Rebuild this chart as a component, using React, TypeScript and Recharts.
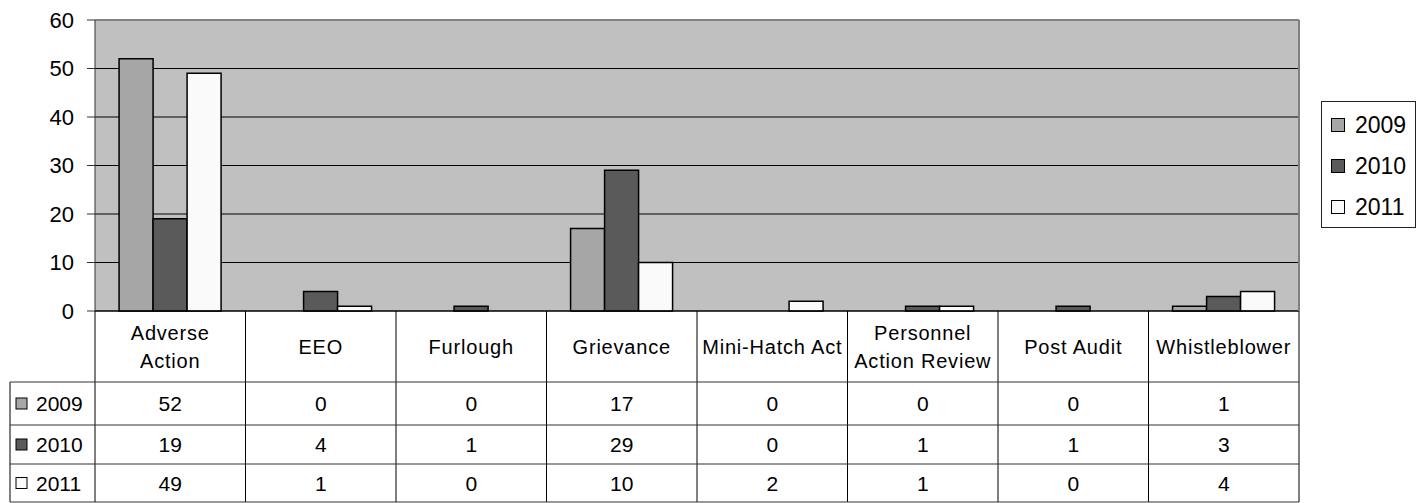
import React from "react";
import { BarChart, Bar, XAxis, YAxis, CartesianGrid, Legend, ReferenceLine } from "recharts";

const categories = [
  "Adverse\nAction",
  "EEO",
  "Furlough",
  "Grievance",
  "Mini-Hatch Act",
  "Personnel\nAction Review",
  "Post Audit",
  "Whistleblower",
];
const seriesNames = ["2009", "2010", "2011"];
const s2009 = [52, 0, 0, 17, 0, 0, 0, 1];
const s2010 = [19, 4, 1, 29, 0, 1, 1, 3];
const s2011 = [49, 1, 0, 10, 2, 1, 0, 4];
const yTicks = [0, 10, 20, 30, 40, 50, 60];

const seriesValues = [s2009, s2010, s2011];
const colors = ["#a6a6a6", "#5a5a5a", "#fafafa"];

const data = categories.map((c, i) => ({
  name: c,
  "2009": s2009[i],
  "2010": s2010[i],
  "2011": s2011[i],
}));

const W = 1424;
const H = 503;
const LEFT_W = 95;
const RIGHT_W = 125;
const TOP = 20;
const XAXIS_H = 192;
const PLOT_W = W - LEFT_W - RIGHT_W;
const FONT = "'Liberation Sans', Arial, Helvetica, sans-serif";
const TABLE_LEFT = 10;
const CAT_ROW_H = 71;
const ROW_HS = [43, 39, 38];

const TableTick = (props: any) => {
  const { x, y, payload } = props;
  const i = payload.index;
  const colW = PLOT_W / categories.length;
  const left = x - colW / 2;
  const right = x + colW / 2;
  const lines = String(categories[i]).split("\n");
  const lineH = 28;
  const catCenter = y + CAT_ROW_H / 2;
  const rowTops: number[] = [];
  let acc = y + CAT_ROW_H;
  for (let r = 0; r < ROW_HS.length; r++) {
    rowTops.push(acc);
    acc += ROW_HS[r];
  }
  const bottom = acc;
  return (
    <g>
      {i === 0 && <line x1={left} y1={y} x2={left} y2={bottom} stroke="#000" strokeWidth={1} />}
      <line x1={right} y1={y} x2={right} y2={bottom} stroke="#000" strokeWidth={1} />
      {lines.map((ln, k) => (
        <text
          key={k}
          x={x}
          y={catCenter + (k - (lines.length - 1) / 2) * lineH}
          textAnchor="middle"
          dominantBaseline="central"
          fontSize={20}
          letterSpacing={0.8}
          fill="#000"
          fontFamily={FONT}
        >
          {ln}
        </text>
      ))}
      {rowTops.map((t, r) => (
        <g key={r}>
          <line x1={left} y1={t} x2={right} y2={t} stroke="#333" strokeWidth={1} />
          <text
            x={x}
            y={t + ROW_HS[r] / 2}
            textAnchor="middle"
            dominantBaseline="central"
            fontSize={21}
            fill="#000"
            fontFamily={FONT}
          >
            {seriesValues[r][i]}
          </text>
        </g>
      ))}
      <line x1={left} y1={bottom} x2={right} y2={bottom} stroke="#333" strokeWidth={1} />
      {i === 0 && (
        <g>
          <line x1={TABLE_LEFT} y1={rowTops[0]} x2={TABLE_LEFT} y2={bottom} stroke="#000" strokeWidth={1} />
          <line x1={TABLE_LEFT} y1={bottom} x2={left} y2={bottom} stroke="#333" strokeWidth={1} />
          {rowTops.map((t, r) => (
            <g key={r}>
              <line x1={TABLE_LEFT} y1={t} x2={left} y2={t} stroke="#333" strokeWidth={1} />
              <rect
                x={TABLE_LEFT + 6}
                y={t + ROW_HS[r] / 2 - 5.5}
                width={11}
                height={11}
                fill={colors[r]}
                stroke="#000"
                strokeWidth={1}
              />
              <text
                x={TABLE_LEFT + 26}
                y={t + ROW_HS[r] / 2}
                dominantBaseline="central"
                fontSize={21}
                fill="#000"
                fontFamily={FONT}
              >
                {seriesNames[r]}
              </text>
            </g>
          ))}
        </g>
      )}
    </g>
  );
};

const renderLegend = (props: any) => {
  const payload = props.payload || [];
  return (
    <div
      style={{
        boxSizing: "border-box",
        width: 95,
        height: 127,
        border: "1px solid #222",
        background: "#fff",
        position: "relative",
        fontFamily: FONT,
      }}
    >
      {seriesNames.map((n, k) => {
        const entry = payload.find((p: any) => p.value === n);
        const col = (entry && entry.color) || colors[k];
        return (
          <div
            key={n}
            style={{
              position: "absolute",
              left: 9,
              top: 23 + k * 41 - 14,
              height: 28,
              display: "flex",
              alignItems: "center",
            }}
          >
            <div
              style={{
                width: 14,
                height: 14,
                boxSizing: "border-box",
                border: "1px solid #000",
                background: col,
                marginRight: 10,
              }}
            />
            <span style={{ fontSize: 23, color: "#000", lineHeight: "28px" }}>{n}</span>
          </div>
        );
      })}
    </div>
  );
};

export default function App() {
  return (
    <div style={{ position: "absolute", left: 0, top: 0, width: W, height: H, background: "#fff" }}>
      <BarChart
        width={W}
        height={H}
        data={data}
        margin={{ top: TOP, right: 0, left: 0, bottom: 0 }}
        barCategoryGap="16%"
        barGap={0}
        style={{ fontFamily: FONT }}
      >
        <CartesianGrid
          yAxisId="left"
          vertical={false}
          stroke="#000"
          strokeWidth={1}
          fill="#c0c0c0"
          fillOpacity={1}
        />
        <XAxis
          dataKey="name"
          height={XAXIS_H}
          interval={0}
          tickLine={false}
          tickSize={0}
          tickMargin={0}
          axisLine={{ stroke: "#000", strokeWidth: 1 }}
          tick={(p: any) => <TableTick {...p} />}
        />
        <YAxis
          yAxisId="left"
          width={LEFT_W}
          domain={[0, 60]}
          ticks={yTicks}
          interval={0}
          tickSize={8}
          tickMargin={13}
          axisLine={{ stroke: "#333", strokeWidth: 1 }}
          tickLine={{ stroke: "#333", strokeWidth: 1 }}
          tick={{ fontSize: 22, fill: "#000", fontFamily: FONT }}
        />
        <YAxis
          yAxisId="right"
          orientation="right"
          width={RIGHT_W}
          domain={[0, 60]}
          ticks={yTicks}
          tick={false}
          tickLine={false}
          axisLine={{ stroke: "#808080", strokeWidth: 2 }}
        />
        <ReferenceLine yAxisId="left" y={60} stroke="#808080" strokeWidth={2} />
        {seriesNames.map((n, k) => (
          <Bar
            key={n}
            yAxisId="left"
            dataKey={n}
            name={n}
            fill={colors[k]}
            stroke="#000"
            strokeWidth={1.5}
            isAnimationActive={false}
          />
        ))}
        <Legend
          layout="vertical"
          align="center"
          verticalAlign="middle"
          wrapperStyle={{ left: 1321, top: 101, width: 95, height: 127 }}
          content={renderLegend}
        />
      </BarChart>
    </div>
  );
}
